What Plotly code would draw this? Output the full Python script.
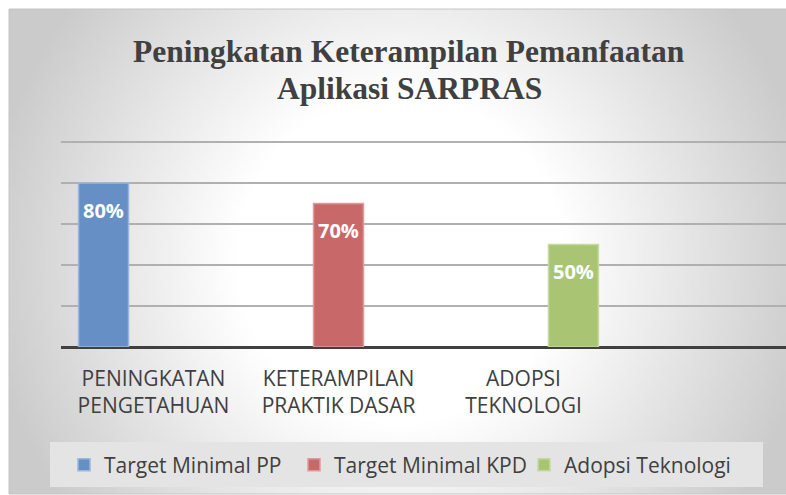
import base64, struct, zlib
import numpy as np
import plotly.graph_objects as go

# ---------------- data ----------------
categories = ["PENINGKATAN<br>PENGETAHUAN", "KETERAMPILAN<br>PRAKTIK DASAR", "ADOPSI<br>TEKNOLOGI"]
series_names = ["Target Minimal PP", "Target Minimal KPD", "Adopsi Teknologi"]
pp_values = [80, None, None]
kpd_values = [None, 70, None]
adopsi_values = [None, None, 50]
label_suffix = "%"
title_lines = ["Peningkatan Keterampilan Pemanfaatan", "Aplikasi SARPRAS"]

# ---------------- style ----------------
W, H = 786, 495
ML, MR, MT, MB = 61, 0, 140, 148
fills = ["#6690c5", "#c96868", "#a9c574"]
edges = ["#9bb6dc", "#dc9c9c", "#c6da9f"]
BARGAP = 0.19
TEXT = "#404040"

def px_x(p):  # pixel -> paper x
    return (p - ML) / (W - ML - MR)

def px_y(p):  # pixel -> paper y
    return (H - MB - p) / (H - MT - MB)

# radial gradient background as small png
gw, gh = 197, 124
xs = (np.arange(gw) + 0.5) * (W - 9) / gw + 9
ys = (np.arange(gh) + 0.5) * (H - 9) / gh + 9
X, Y = np.meshgrid(xs, ys)
d = np.sqrt(((X - 400) / 420) ** 2 + ((Y - 260) / 420) ** 2)
t = np.clip((d - 0.4) / 0.6, 0, 1)
img = (255 - t * 52).astype(np.uint8)

def png_uri(a):
    h, w = a.shape
    raw = b"".join(b"\x00" + a[r].tobytes() for r in range(h))
    def chunk(tp, data):
        c = struct.pack(">I", len(data)) + tp + data
        return c + struct.pack(">I", zlib.crc32(tp + data) & 0xffffffff)
    png = b"\x89PNG\r\n\x1a\n" + chunk(b"IHDR", struct.pack(">IIBBBBB", w, h, 8, 0, 0, 0, 0)) \
        + chunk(b"IDAT", zlib.compress(raw, 9)) + chunk(b"IEND", b"")
    return "data:image/png;base64," + base64.b64encode(png).decode()

xpos = list(range(len(categories)))
fig = go.Figure()
all_vals = [pp_values, kpd_values, adopsi_values]
for i, (name, vals) in enumerate(zip(series_names, all_vals)):
    fig.add_trace(go.Bar(x=xpos, y=vals, name=name,
                         marker=dict(color=fills[i], line=dict(color=edges[i], width=1.5)),
                         hoverinfo="skip"))

slot = (1 - BARGAP) / len(series_names)
annotations = []
for i, vals in enumerate(all_vals):
    for xi, v in zip(xpos, vals):
        if v is None:
            continue
        annotations.append(dict(x=xi + (i - 1) * slot, y=v, xref="x", yref="y",
                                text=f"<b>{v}{label_suffix}</b>", showarrow=False,
                                yshift=-27, yanchor="middle",
                                font=dict(family="Open Sans", size=20, color="white")))

# title lines
for line, cy in zip(title_lines, [51, 88]):
    annotations.append(dict(x=px_x(409), y=px_y(cy), xref="paper", yref="paper",
                            text=f"<b>{line}</b>", showarrow=False,
                            xanchor="center", yanchor="middle",
                            font=dict(family="Liberation Serif", size=31.5, color=TEXT)))

fig.update_layout(
    width=W, height=H,
    margin=dict(l=ML, r=MR, t=MT, b=MB, pad=0, autoexpand=False),
    paper_bgcolor="white", plot_bgcolor="rgba(0,0,0,0)",
    barmode="group", bargap=BARGAP, bargroupgap=0,
    xaxis=dict(range=[-0.5, -0.5 + (W - ML - MR) / 185], tickvals=xpos, ticktext=categories,
               showgrid=False, zeroline=False, showline=False, ticks="",
               ticklabelstandoff=17,
               tickfont=dict(family="Open Sans", size=21, color=TEXT)),
    yaxis=dict(range=[0, 101], tickvals=[0, 20, 40, 60, 80, 100], showticklabels=False,
               showgrid=True, gridcolor="#b0b0b0", gridwidth=1.5,
               zeroline=True, zerolinecolor="#404040", zerolinewidth=3, showline=False),
    legend=dict(orientation="h", x=px_x(64), y=px_y(465), xanchor="left", yanchor="middle",
                bgcolor="rgba(0,0,0,0)", entrywidth=185, entrywidthmode="pixels",
                font=dict(family="Open Sans", size=21, color=TEXT), traceorder="normal",
                itemclick=False),
    annotations=annotations,
    images=[dict(source=png_uri(img), xref="paper", yref="paper",
                 x=px_x(9), y=px_y(9), sizex=px_x(W) - px_x(9), sizey=px_y(9) - px_y(H - 1),
                 xanchor="left", yanchor="top", sizing="stretch", layer="below")],
    shapes=[dict(type="rect", xref="paper", yref="paper", x0=px_x(9), x1=px_x(W + 2),
                 y0=px_y(H - 1), y1=px_y(9), line=dict(color="#c4c4c4", width=1), layer="below"),
            dict(type="rect", xref="paper", yref="paper", x0=px_x(50), x1=px_x(763),
                 y0=px_y(487), y1=px_y(442), fillcolor="#e4e4e4", line=dict(width=0),
                 layer="below")],
    showlegend=True,
)

fig.write_html("out.html")
